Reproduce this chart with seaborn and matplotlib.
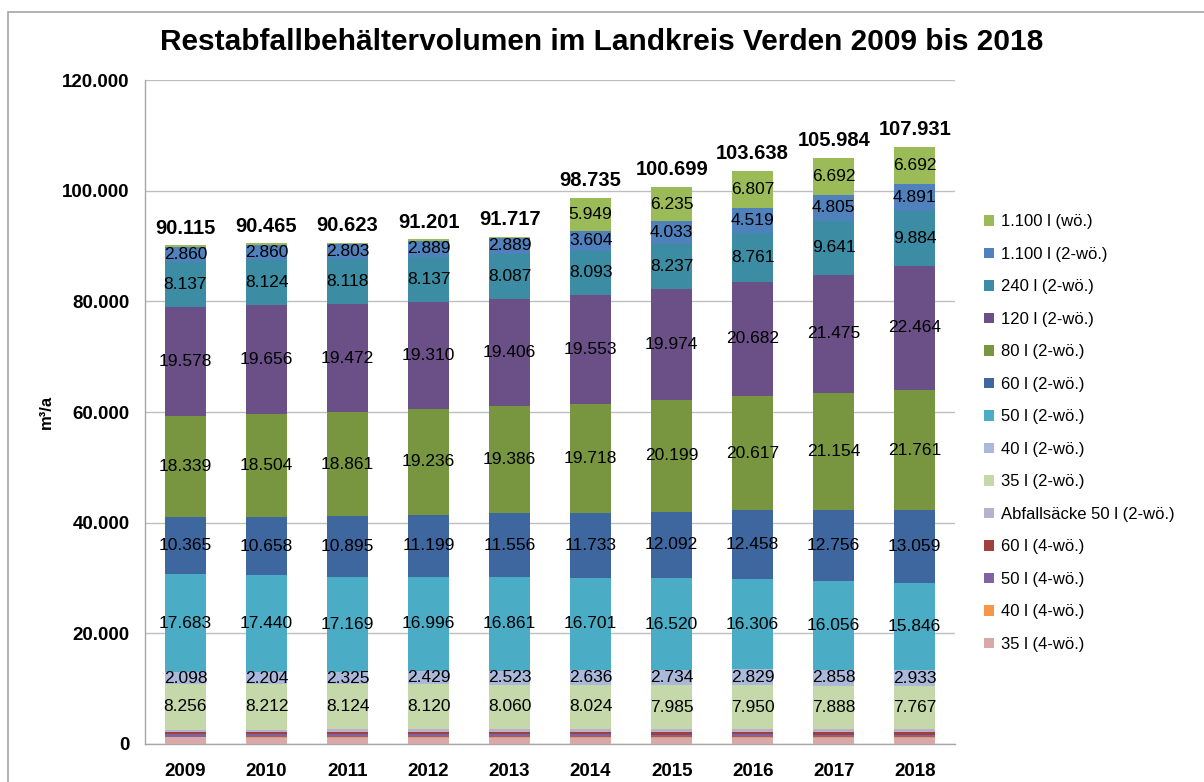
import numpy as np
import matplotlib.pyplot as plt
from matplotlib.patches import Patch, Rectangle
import seaborn as sns

# Restabfallbehältervolumen im Landkreis Verden (m³/a)
years = ["2009", "2010", "2011", "2012", "2013", "2014", "2015", "2016", "2017", "2018"]
totals = [90115, 90465, 90623, 91201, 91717, 98735, 100699, 103638, 105984, 107931]

# small series at the bottom (read off roughly, not labelled in the chart)
l35_4wo = [1180, 1170, 1160, 1150, 1140, 1130, 1110, 1100, 1080, 1060]
l40_4wo = [90, 100, 110, 120, 140, 140, 140, 150, 150, 150]
l50_4wo = [460, 460, 470, 470, 480, 470, 460, 470, 460, 460]
l60_4wo = [420, 420, 430, 440, 450, 480, 480, 490, 480, 480]
saecke_50_2wo = [450, 450, 460, 470, 480, 504, 500, 499, 489, 484]

l35_2wo = [8256, 8212, 8124, 8120, 8060, 8024, 7985, 7950, 7888, 7767]
l40_2wo = [2098, 2204, 2325, 2429, 2523, 2636, 2734, 2829, 2858, 2933]
l50_2wo = [17683, 17440, 17169, 16996, 16861, 16701, 16520, 16306, 16056, 15846]
l60_2wo = [10365, 10658, 10895, 11199, 11556, 11733, 12092, 12458, 12756, 13059]
l80_2wo = [18339, 18504, 18861, 19236, 19386, 19718, 20199, 20617, 21154, 21761]
l120_2wo = [19578, 19656, 19472, 19310, 19406, 19553, 19974, 20682, 21475, 22464]
l240_2wo = [8137, 8124, 8118, 8137, 8087, 8093, 8237, 8761, 9641, 9884]
l1100_2wo = [2860, 2860, 2803, 2889, 2889, 3604, 4033, 4519, 4805, 4891]
l1100_wo = [199, 207, 226, 235, 259, 5949, 6235, 6807, 6692, 6692]

# bottom -> top  (name, values, colour, labelled?)
stack = [
    ("35 l (4-wö.)", l35_4wo, "#D9A9A8", False),
    ("40 l (4-wö.)", l40_4wo, "#F79646", False),
    ("50 l (4-wö.)", l50_4wo, "#8064A2", False),
    ("60 l (4-wö.)", l60_4wo, "#A0403D", False),
    ("Abfallsäcke 50 l (2-wö.)", saecke_50_2wo, "#B9B0CE", False),
    ("35 l (2-wö.)", l35_2wo, "#C5D8AA", True),
    ("40 l (2-wö.)", l40_2wo, "#AAB9DA", True),
    ("50 l (2-wö.)", l50_2wo, "#4BACC6", True),
    ("60 l (2-wö.)", l60_2wo, "#3E67A0", True),
    ("80 l (2-wö.)", l80_2wo, "#77963F", True),
    ("120 l (2-wö.)", l120_2wo, "#6A5087", True),
    ("240 l (2-wö.)", l240_2wo, "#3C8CA3", True),
    ("1.100 l (2-wö.)", l1100_2wo, "#4F81BD", True),
    ("1.100 l (wö.)", l1100_wo, "#9BBB59", True),
]


def de(v):
    return f"{v:,}".replace(",", ".")


sns.set_style("white")
plt.rcParams["font.family"] = ["Liberation Sans", "DejaVu Sans"]
plt.rcParams["text.color"] = "black"
plt.rcParams["xtick.color"] = "black"
plt.rcParams["ytick.color"] = "black"
plt.rcParams["axes.labelcolor"] = "black"

fig = plt.figure(figsize=(12.04, 7.82), dpi=100)
ax = fig.add_axes([0.1204, 0.0486, 0.673, 0.849])

# outer chart frame
fig.patches.append(Rectangle((8 / 1204, -0.1), 1.2, 0.1 + (1 - 12 / 782),
                             transform=fig.transFigure, fill=False,
                             edgecolor="#A6A6A6", lw=1.2))

cum = np.cumsum([np.array(s[1]) for s in stack], axis=0)

# draw cumulative bars from the top layer down so each layer covers the rest
for k in range(len(stack) - 1, -1, -1):
    sns.barplot(x=years, y=cum[k], color=stack[k][2], width=0.5,
                saturation=1, errorbar=None, linewidth=0, ax=ax, zorder=3)

# segment labels
for k, (name, vals, col, lab) in enumerate(stack):
    if not lab:
        continue
    for i, v in enumerate(vals):
        if v < 1000:
            continue
        mid = cum[k][i] - v / 2
        ax.text(i, mid, de(v), ha="center", va="center", fontsize=12.5,
                color="black", zorder=5)

for i, t in enumerate(totals):
    ax.text(i, t + 1400, de(t), ha="center", va="bottom", fontsize=14.5,
            fontweight="bold", zorder=5)

ax.set_ylim(0, 120000)
ax.set_xlim(-0.5, len(years) - 0.5)
yt = np.arange(0, 120001, 20000)
ax.set_yticks(yt)
ax.set_yticklabels([de(int(v)) for v in yt], fontsize=13.5, fontweight="bold")
ax.set_xticks(range(len(years)))
ax.set_xticklabels(years, fontsize=13.5, fontweight="bold")
ax.set_xticks(np.arange(-0.5, len(years)), minor=True)
ax.tick_params(axis="x", which="major", length=0, pad=14)
ax.tick_params(axis="x", which="minor", length=6, color="#A6A6A6", width=1)
ax.tick_params(axis="y", length=5, color="#A6A6A6", width=1, pad=6)

ax.grid(axis="y", color="#BFBFBF", lw=1, zorder=0)
ax.set_axisbelow(True)
for s in ["top", "right"]:
    ax.spines[s].set_visible(False)
for s in ["left", "bottom"]:
    ax.spines[s].set_color("#A6A6A6")
    ax.spines[s].set_linewidth(1)

ax.set_xlabel("")
ax.set_ylabel("m³/a", fontsize=12, fontweight="bold", labelpad=6)

fig.text(0.5, 1 - 42 / 782, "Restabfallbehältervolumen im Landkreis Verden 2009 bis 2018",
         ha="center", va="center", fontsize=21.5, fontweight="bold")

handles = [Patch(facecolor=s[2], edgecolor="none", label=s[0]) for s in stack[::-1]]
fig.legend(handles=handles, loc="upper left", bbox_to_anchor=(0.805, 0.745),
           frameon=False, fontsize=12, handlelength=0.6, handleheight=0.6,
           handletextpad=0.4, labelspacing=1.05)

fig.savefig("out.png", dpi=100)
